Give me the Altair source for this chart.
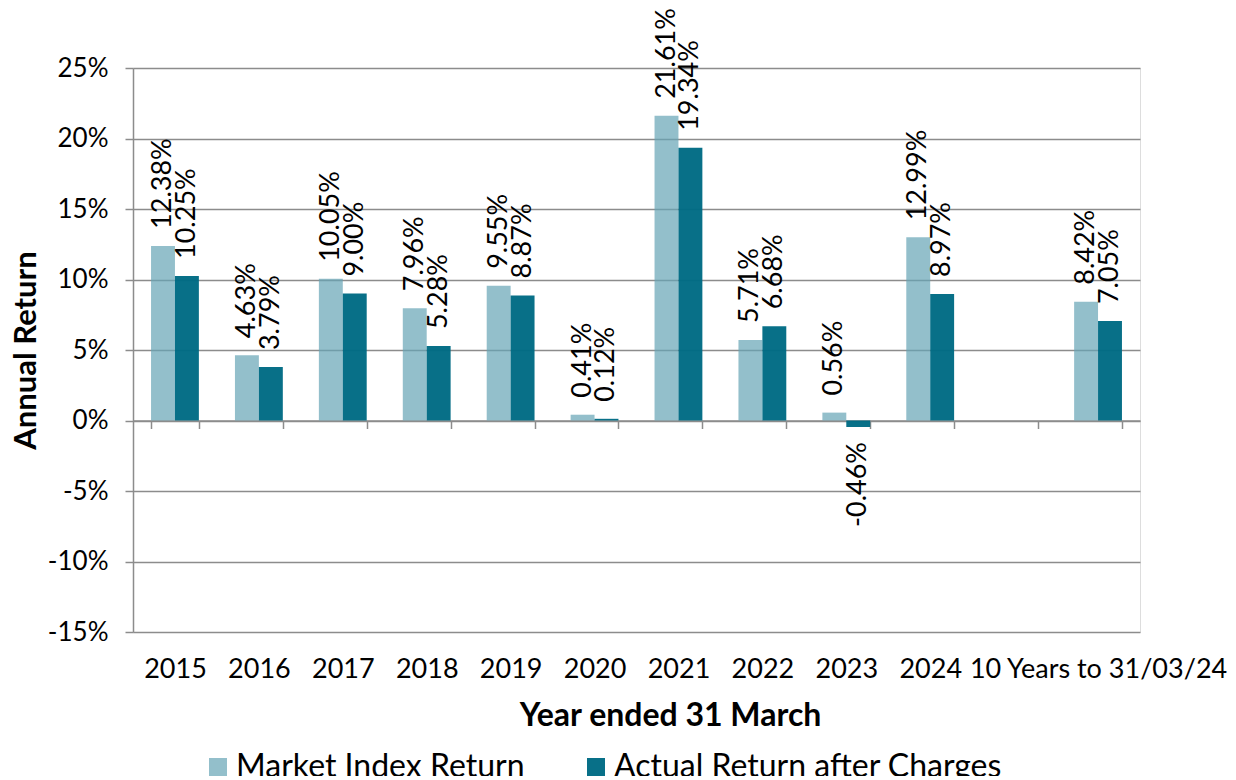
import altair as alt
import pandas as pd

categories = ['2015', '2016', '2017', '2018', '2019', '2020', '2021', '2022',
              '2023', '2024', ' ', '10 Years to 31/03/24']
years = ['2015', '2016', '2017', '2018', '2019', '2020', '2021', '2022',
         '2023', '2024', '10 Years to 31/03/24']
market = [12.38, 4.63, 10.05, 7.96, 9.55, 0.41, 21.61, 5.71, 0.56, 12.99, 8.42]
actual = [10.25, 3.79, 9.00, 5.28, 8.87, 0.12, 19.34, 6.68, -0.46, 8.97, 7.05]
series_names = ['Market Index Return', 'Actual Return after Charges']
colors = ['#65A4B5', '#006B84']
opacities = [0.7, 0.97]
y_ticks = [-15, -10, -5, 0, 5, 10, 15, 20, 25]

rows = []
for c, m, a in zip(years, market, actual):
    rows.append({'cat': c, 'series': series_names[0], 'value': m})
    rows.append({'cat': c, 'series': series_names[1], 'value': a})
df = pd.DataFrame(rows)

W, H = 1007, 564
GRID = '#8C8C8C'
FONT = 'Lato'
below_zero = H - H * 25 / 40   # distance from the zero line to the bottom of the plot

xscale = alt.Scale(domain=categories, paddingInner=0.43, paddingOuter=0.215)
yscale = alt.Scale(domain=[-15, 25], nice=False, zero=False)
xoff = alt.XOffset('series:N', sort=series_names,
                   scale=alt.Scale(domain=series_names, paddingInner=0, paddingOuter=0))

xaxis = alt.Axis(title='Year ended 31 March', offset=-below_zero,
                 ticks=True, tickSize=8, tickBand='extent', tickColor=GRID, tickWidth=1.5,
                 domain=True, domainColor=GRID, domainWidth=1.5, grid=False,
                 labelFontSize=27, labelPadding=below_zero + 45 - 8,
                 labelBaseline='alphabetic', labelAngle=0, labelLimit=1000,
                 labelColor='black', labelFont=FONT,
                 titleFontSize=32, titleFontWeight='bold', titleFont=FONT,
                 titleColor='black', titleX=537, titleY=below_zero + 93,
                 titleBaseline='alphabetic', titleAlign='center')

yaxis = alt.Axis(values=y_ticks, labelExpr="datum.value + '%'",
                 title='Annual Return', grid=True, gridColor=GRID, gridWidth=1.5,
                 domain=True, domainColor=GRID, domainWidth=1.5,
                 ticks=True, tickColor=GRID, tickWidth=1.5, tickSize=8,
                 labelPadding=17, labelFontSize=26, labelColor='black', labelFont=FONT,
                 titleFontSize=31, titleFontWeight='bold', titleFont=FONT,
                 titleColor='black', titleX=-98, titleY=H / 2, titleAngle=270,
                 titleBaseline='alphabetic', titleAlign='center')

legend = alt.Legend(title=None, orient='none', direction='horizontal',
                    legendX=69, legendY=683, padding=0, symbolType='square',
                    symbolSize=324, symbolStrokeWidth=0,
                    labelFontSize=32, labelFont=FONT, labelColor='black',
                    labelLimit=1000, labelOffset=2, columnPadding=55)

base = alt.Chart(df)
xenc = alt.X('cat:N', scale=xscale, sort=categories, axis=xaxis)
yenc = alt.Y('value:Q', scale=yscale, axis=yaxis)

bars = base.mark_bar().encode(
    x=xenc,
    xOffset=xoff,
    y=yenc,
    color=alt.Color('series:N', scale=alt.Scale(domain=series_names, range=colors),
                    legend=legend),
    opacity=alt.Opacity('series:N', scale=alt.Scale(domain=series_names, range=opacities),
                        legend=legend)
)

label_expr = "replace(format(datum.value, '.2f'), '\u2212', '-') + '%'"

lab_pos = base.transform_filter('datum.value >= 0').transform_calculate(
    label=label_expr
).mark_text(angle=270, align='left', baseline='middle', dx=17, fontSize=27,
            font=FONT, color='black').encode(
    x=xenc, xOffset=xoff, y=yenc, text='label:N'
)

lab_neg = base.transform_filter('datum.value < 0').transform_calculate(
    label=label_expr
).mark_text(angle=270, align='right', baseline='middle', dx=-15, fontSize=27,
            font=FONT, color='black').encode(
    x=xenc, xOffset=xoff, y=yenc, text='label:N'
)

chart = alt.layer(bars, lab_pos, lab_neg).properties(
    width=W, height=H,
    padding={'left': 125, 'top': 60, 'right': 88, 'bottom': 144},
    autosize=alt.AutoSizeParams(type='none')
).configure_view(stroke='transparent', strokeWidth=0).configure(font=FONT)

chart.save('out.html', embed_options={'renderer': 'svg', 'actions': False})
